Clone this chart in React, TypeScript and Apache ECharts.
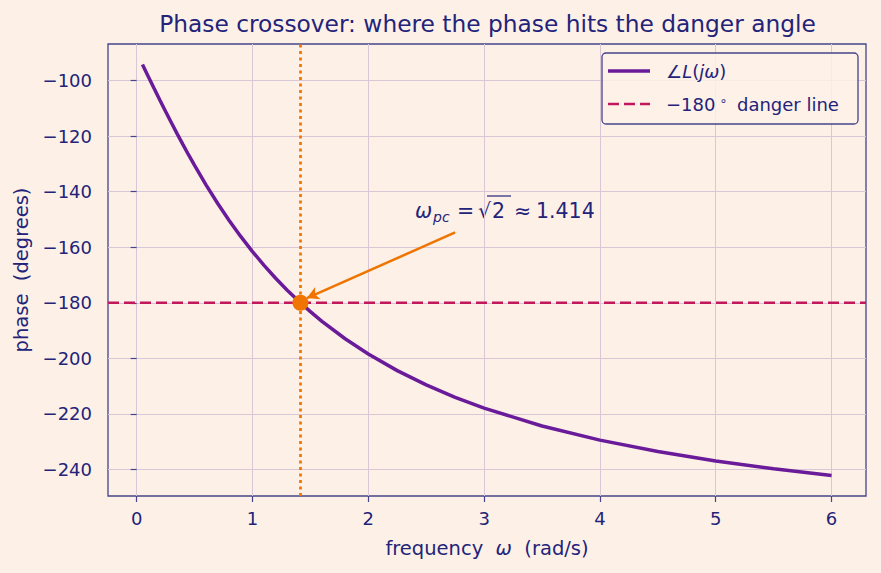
import React, { useEffect, useRef } from "react";
import * as echarts from "echarts";

const omega = [0.05, 0.1, 0.15, 0.2, 0.25, 0.3, 0.35, 0.4, 0.45, 0.5, 0.6, 0.7, 0.8, 0.9, 1.0, 1.1, 1.2, 1.3, 1.414, 1.5, 1.6, 1.8, 2.0, 2.25, 2.5, 2.75, 3.0, 3.5, 4.0, 4.5, 5.0, 5.5, 6.0];
const phase = [-94.29, -98.57, -102.82, -107.02, -111.16, -115.23, -119.22, -123.11, -126.91, -130.6, -137.66, -144.28, -150.46, -156.22, -161.57, -166.54, -171.16, -175.46, -180.0, -183.18, -186.66, -192.93, -198.43, -204.4, -209.54, -213.99, -217.88, -224.31, -229.4, -233.51, -236.89, -239.71, -242.1];
const xTicks = [0, 1, 2, 3, 4, 5, 6];
const yTicks = [-240, -220, -200, -180, -160, -140, -120, -100];
const xRange = [-0.2475, 6.2975];
const yRange = [-249.5, -86.9];
const dangerY = -180;
const crossover = [1.414, -180];
const arrowTail = [2.75, -154.7];
const arrowHead = [1.47, -178.3];

const NAVY = "#23237a";
const BG = "#fdf1e7";
const GRIDC = "#d9c6d6";
const SPINE = "#44448a";
const PURPLE = "#6a1b9a";
const CRIMSON = "#c2185b";
const ORANGE = "#ef7400";
const FONT = "DejaVu Sans";

export default function App() {
  const ref = useRef<HTMLDivElement>(null);
  useEffect(() => {
    const chart = echarts.init(ref.current!, null, { renderer: "svg" });
    const curve = omega.map((w, i) => [w, phase[i]]);
    const tick = { show: true, inside: false, length: 6, lineStyle: { color: SPINE, width: 1.2 } };
    const split = { show: true, lineStyle: { color: GRIDC, width: 1 } };
    const f = (size: number, extra: any = {}) => ({ fill: NAVY, font: `${extra.italic ? "italic " : ""}${size}px '${FONT}'`, textVerticalAlign: "middle", textAlign: extra.align || "left" });
    chart.setOption({
      animation: false,
      backgroundColor: BG,
      textStyle: { fontFamily: FONT },
      grid: { left: 108, right: 15, top: 44, bottom: 77, show: true, borderColor: SPINE, borderWidth: 1.3, backgroundColor: "transparent" },
      legend: { show: false },
      xAxis: {
        type: "value",
        min: xRange[0],
        max: xRange[1],
        axisLine: { show: false },
        axisTick: { ...tick, customValues: xTicks },
        splitLine: split,
        axisLabel: { customValues: xTicks, color: NAVY, fontSize: 18, fontFamily: FONT, margin: 13 },
        name: "{a|frequency  }{i|ω}{a|  (rad/s)}",
        nameLocation: "middle",
        nameGap: 42,
        nameTextStyle: {
          rich: {
            a: { color: NAVY, fontSize: 19.5, fontFamily: FONT },
            i: { color: NAVY, fontSize: 19.5, fontFamily: FONT, fontStyle: "italic" },
          },
        },
      },
      yAxis: {
        type: "value",
        min: yRange[0],
        max: yRange[1],
        axisLine: { show: false },
        axisTick: { ...tick, customValues: yTicks },
        splitLine: split,
        axisLabel: { customValues: yTicks, color: NAVY, fontSize: 18, fontFamily: FONT, margin: 16, formatter: (v: number) => String(v).replace("-", "\u2212") },
        name: "phase  (degrees)",
        nameLocation: "middle",
        nameGap: 76,
        nameTextStyle: { color: NAVY, fontSize: 19.5, fontFamily: FONT },
      },
      series: [
        {
          name: "\u2212180\u00b0 danger line",
          type: "line",
          data: [[xRange[0], dangerY], [xRange[1], dangerY]],
          symbol: "none",
          lineStyle: { color: CRIMSON, width: 2.5, type: [11, 5] },
          itemStyle: { color: CRIMSON },
          z: 3,
        },
        {
          name: "\u2220L(j\u03c9)",
          type: "line",
          data: curve,
          symbol: "none",
          smooth: false,
          lineStyle: { color: PURPLE, width: 3.5 },
          itemStyle: { color: PURPLE },
          z: 4,
        },
        {
          name: "crossover",
          type: "scatter",
          data: [crossover],
          symbol: "circle",
          symbolSize: 16,
          itemStyle: { color: ORANGE, opacity: 1 },
          z: 6,
          markLine: {
            silent: true,
            animation: false,
            symbol: ["none", "none"],
            label: { show: false },
            data: [
              { xAxis: crossover[0], lineStyle: { color: ORANGE, type: [3, 3.5], width: 2.7 } },
              [
                { coord: arrowTail, symbol: "none" },
                { coord: arrowHead, symbol: "arrow", symbolSize: [10, 12] },
              ],
            ],
            lineStyle: { color: ORANGE, width: 2.5, type: "solid" },
          },
        },
      ],
      graphic: [
        { type: "text", x: 487.5, y: 23, style: { ...f(23.3, { align: "center" }), text: "Phase crossover: where the phase hits the danger angle" } },
        // annotation
        { type: "text", x: 415, y: 210.5, style: { ...f(20.5, { italic: true }), text: "\u03c9" } },
        { type: "text", x: 433, y: 217, style: { ...f(14, { italic: true }), text: "pc" } },
        { type: "text", x: 457, y: 210.5, style: { ...f(20.5), text: "=" } },
        { type: "text", x: 478, y: 210.5, style: { ...f(20.5), text: "\u221a" } },
        { type: "text", x: 492, y: 210.5, style: { ...f(20.5), text: "2" } },
        { type: "line", shape: { x1: 487, y1: 196, x2: 511, y2: 196 }, style: { stroke: NAVY, lineWidth: 1.2 } },
        { type: "text", x: 514, y: 210.5, style: { ...f(20.5), text: "\u2248" } },
        { type: "text", x: 536, y: 210.5, style: { ...f(20.5), text: "1.414" } },
        // legend
        { type: "rect", shape: { x: 602, y: 53, width: 256, height: 71, r: 4 }, style: { fill: "rgba(253,241,231,0.85)", stroke: SPINE, lineWidth: 1.3 }, z: 10 },
        { type: "line", shape: { x1: 608, y1: 71, x2: 650, y2: 71 }, style: { stroke: PURPLE, lineWidth: 3.5 }, z: 11 },
        { type: "line", shape: { x1: 608, y1: 104, x2: 650, y2: 104 }, style: { stroke: CRIMSON, lineWidth: 2.5, lineDash: [11, 5] }, z: 11 },
        {
          type: "text", x: 666, y: 71, z: 11,
          style: {
            text: "{u|\u2220}{i|L}{u|(}{i|j\u03c9}{u|)}",
            textVerticalAlign: "middle",
            rich: {
              u: { fill: NAVY, fontSize: 18, fontFamily: FONT },
              i: { fill: NAVY, fontSize: 18, fontFamily: FONT, fontStyle: "italic" },
            },
          },
        },
        {
          type: "text", x: 666, y: 104, z: 11,
          style: {
            text: "{u|\u2212180}{s|\u2218}{u| danger line}",
            textVerticalAlign: "middle",
            rich: {
              u: { fill: NAVY, fontSize: 18, fontFamily: FONT, lineHeight: 20 },
              s: { fill: NAVY, fontSize: 12.5, fontFamily: FONT, verticalAlign: "top", lineHeight: 20, padding: [0, 4, 0, 4] },
            },
          },
        },
      ],
    });
    return () => chart.dispose();
  }, []);
  return <div ref={ref} style={{ width: 881, height: 573, position: "absolute", left: 0, top: 0 }} />;
}
